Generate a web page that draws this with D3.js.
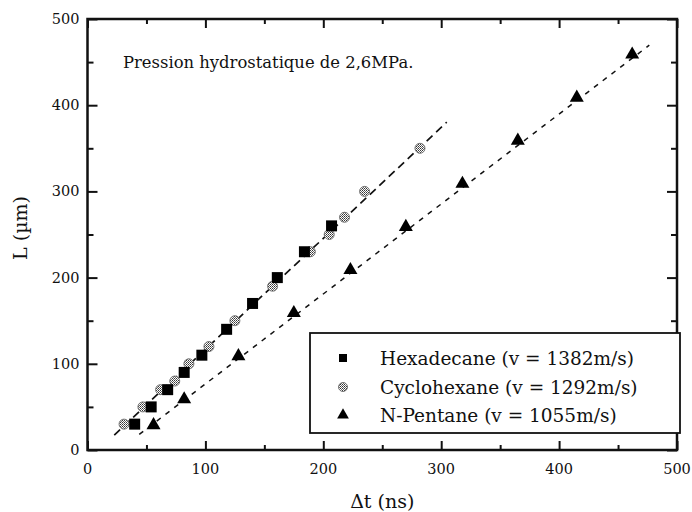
<!DOCTYPE html>
<html>
<head>
<meta charset="utf-8">
<script src="https://cdn.jsdelivr.net/npm/d3@7"></script>
<style>
  html, body { margin: 0; padding: 0; background: #fff; }
  svg { display: block; }
  text { font-family: "DejaVu Serif", "Liberation Serif", serif; fill: #111; }
</style>
</head>
<body>
<svg id="chart" width="692" height="512"></svg>
<script>
// Δt (ns) and L (µm) measurements for each liquid
const hexadecaneDt = [40, 54, 68, 82, 97, 118, 140, 161, 184, 207];
const hexadecaneL  = [30, 50, 70, 90, 110, 140, 170, 200, 230, 260];

const cyclohexaneDt = [31, 47, 62, 74, 86, 103, 125, 157, 189, 205, 218, 235, 282];
const cyclohexaneL  = [30, 50, 70, 80, 100, 120, 150, 190, 230, 250, 270, 300, 350];

const pentaneDt = [56, 82, 128, 175, 223, 270, 318, 365, 415, 462];
const pentaneL  = [30, 60, 110, 160, 210, 260, 310, 360, 410, 460];

// Linear fits (end points in data units)
const fitCyclo   = [[22.7, 17.3], [304.7, 380.3]];
const fitPentane = [[43.9, 18.1], [476.5, 469.6]];

const legendLabels = [
  "Hexadecane (v = 1382m/s)",
  "Cyclohexane (v = 1292m/s)",
  "N-Pentane (v = 1055m/s)"
];
const xTicks = [0, 100, 200, 300, 400, 500];
const yTicks = [0, 100, 200, 300, 400, 500];
const minorTicks = [50, 150, 250, 350, 450];
const noteText = "Pression hydrostatique de 2,6MPa.";

const svg = d3.select("#chart");
const plotLeft = 87.5, plotRight = 677, plotTop = 19, plotBottom = 450;

const x = d3.scaleLinear().domain([0, 500]).range([plotLeft, plotRight]);
const y = d3.scaleLinear().domain([0, 500]).range([plotBottom, plotTop]);

// dithered fill for cyclohexane markers
const defs = svg.append("defs");
const pat = defs.append("pattern").attr("id", "dots")
  .attr("width", 2).attr("height", 2).attr("patternUnits", "userSpaceOnUse");
pat.append("rect").attr("width", 2).attr("height", 2).attr("fill", "#fff");
pat.append("rect").attr("width", 1).attr("height", 1).attr("fill", "#333");
pat.append("rect").attr("x", 1).attr("y", 1).attr("width", 1).attr("height", 1).attr("fill", "#666");

// axes with inward ticks on all four sides
function tickAxis(axisFn, scale, pos, size, values) {
  const g = svg.append("g").attr("transform", pos);
  g.call(axisFn(scale).tickValues(values).tickSize(size).tickFormat(""));
  g.select(".domain").remove();
  g.selectAll("line").attr("stroke", "#111").attr("stroke-width", 2);
  return g;
}
// major
tickAxis(d3.axisBottom, x, `translate(0,${plotBottom})`, -9, xTicks);
tickAxis(d3.axisTop, x, `translate(0,${plotTop})`, -9, xTicks);
tickAxis(d3.axisLeft, y, `translate(${plotLeft},0)`, -10, yTicks);
tickAxis(d3.axisRight, y, `translate(${plotRight},0)`, -10, yTicks);
// minor
tickAxis(d3.axisBottom, x, `translate(0,${plotBottom})`, -5, minorTicks);
tickAxis(d3.axisTop, x, `translate(0,${plotTop})`, -5, minorTicks);
tickAxis(d3.axisLeft, y, `translate(${plotLeft},0)`, -6, minorTicks);
tickAxis(d3.axisRight, y, `translate(${plotRight},0)`, -6, minorTicks);

// frame
svg.append("rect")
  .attr("x", plotLeft).attr("y", plotTop)
  .attr("width", plotRight - plotLeft).attr("height", plotBottom - plotTop)
  .attr("fill", "none").attr("stroke", "#111").attr("stroke-width", 2.5);

// tick labels
svg.append("g").selectAll("text").data(xTicks).join("text")
  .attr("x", d => x(d)).attr("y", plotBottom + 24)
  .attr("text-anchor", "middle").attr("font-size", 14.5)
  .text(d => d);
svg.append("g").selectAll("text").data(yTicks).join("text")
  .attr("x", plotLeft - 8).attr("y", d => y(d) + 5)
  .attr("text-anchor", "end").attr("font-size", 14.5)
  .text(d => d);

// axis titles
svg.append("text")
  .attr("x", (plotLeft + plotRight) / 2).attr("y", 508)
  .attr("text-anchor", "middle").attr("font-size", 19)
  .text("Δt (ns)");
svg.append("text")
  .attr("transform", `translate(27,228) rotate(-90)`)
  .attr("text-anchor", "middle").attr("font-size", 19)
  .text("L (µm)");

// annotation
svg.append("text")
  .attr("x", 123).attr("y", 68)
  .attr("font-size", 16.4)
  .text(noteText);

// fit lines
const line = d3.line().x(d => x(d[0])).y(d => y(d[1]));
svg.append("path").attr("d", line(fitCyclo))
  .attr("fill", "none").attr("stroke", "#111")
  .attr("stroke-width", 1.7).attr("stroke-dasharray", "8,5");
svg.append("path").attr("d", line(fitPentane))
  .attr("fill", "none").attr("stroke", "#111")
  .attr("stroke-width", 1.5).attr("stroke-dasharray", "5,6");

// markers
const sq = d3.symbol().type(d3.symbolSquare);
const tri = d3.symbol().type(d3.symbolTriangle);

function drawSeries(dts, ls, draw) {
  const g = svg.append("g");
  dts.forEach((dt, i) => draw(g, x(dt), y(ls[i])));
}
drawSeries(cyclohexaneDt, cyclohexaneL, (g, px, py) => {
  g.append("circle").attr("cx", px).attr("cy", py).attr("r", 5)
    .attr("fill", "url(#dots)").attr("stroke", "#777").attr("stroke-width", 1);
});
drawSeries(hexadecaneDt, hexadecaneL, (g, px, py) => {
  g.append("path").attr("d", sq.size(121)()).attr("transform", `translate(${px},${py})`)
    .attr("fill", "#000");
});
drawSeries(pentaneDt, pentaneL, (g, px, py) => {
  g.append("path").attr("d", tri.size(85)()).attr("transform", `translate(${px},${py + 1})`)
    .attr("fill", "#000");
});

// legend
const lg = svg.append("g");
lg.append("rect").attr("x", 310).attr("y", 333).attr("width", 370).attr("height", 100)
  .attr("fill", "#fff").attr("stroke", "#111").attr("stroke-width", 1.8);
const rowsY = [358, 387, 415];
legendLabels.forEach((lab, i) => {
  const cy = rowsY[i];
  if (i === 0) {
    lg.append("path").attr("d", sq.size(64)()).attr("transform", `translate(343,${cy})`).attr("fill", "#000");
  } else if (i === 1) {
    lg.append("circle").attr("cx", 343).attr("cy", cy).attr("r", 4.5)
      .attr("fill", "url(#dots)").attr("stroke", "#777").attr("stroke-width", 1);
  } else {
    lg.append("path").attr("d", tri.size(60)()).attr("transform", `translate(343,${cy})`).attr("fill", "#000");
  }
  lg.append("text").attr("x", 380).attr("y", cy + 6.5).attr("font-size", 18.5).text(lab);
});
</script>
</body>
</html>
